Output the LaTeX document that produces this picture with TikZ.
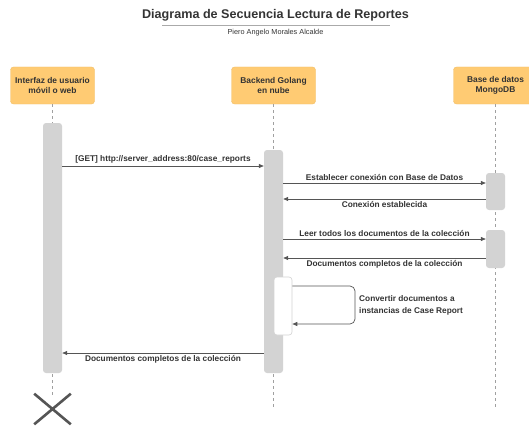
\documentclass[tikz,border=0pt]{standalone}
\usepackage{fontspec}
\setmainfont{Liberation Sans}
\usetikzlibrary{arrows.meta,shapes.misc}
\definecolor{hdrfill}{HTML}{FFCB73}
\definecolor{hdrline}{HTML}{F0BE68}
\definecolor{barfill}{HTML}{D3D3D3}
\definecolor{ink}{HTML}{333333}
\definecolor{wire}{HTML}{555555}
\definecolor{lifegray}{HTML}{A0A0A0}
\definecolor{rulegray}{HTML}{AAAAAA}

\begin{document}
\begin{tikzpicture}[x=1pt,y=-1pt,
  header/.style={draw=hdrline, line width=0.4pt, fill=hdrfill, rounded corners=3pt,
    minimum width=84pt, minimum height=37pt, inner sep=0pt, align=center,
    font=\fontsize{8.4}{10.5}\selectfont\bfseries, text=ink},
  actbar/.style={fill=barfill, rounded corners=3pt, minimum width=19pt, inner sep=0pt},
  selfbar/.style={draw=barfill, fill=white, rounded corners=3pt, minimum width=18pt,
    inner sep=0pt, line width=0.6pt},
  lifeline/.style={draw=lifegray, dash pattern=on 3pt off 3pt, line width=0.6pt},
  msg/.style={draw=wire, line width=0.7pt, -{Triangle[length=5pt,width=4pt]}},
  lbl/.style={font=\fontsize{8.3}{10}\selectfont\bfseries, text=ink, inner sep=2pt},
  endmark/.style={cross out, draw=wire, line width=2.6pt, minimum width=34pt,
    minimum height=28pt, inner sep=0pt},
]
\useasboundingbox (0,0) rectangle (529,425);

% title block
\node[font=\fontsize{12.6}{14}\selectfont\bfseries, text=ink] (title) at (275.5,15)
  {Diagrama de Secuencia Lectura de Reportes};
\coordinate (ruleL) at (162,25);
\coordinate (ruleR) at (390,25);
\draw[rulegray, line width=0.8pt] (ruleL) -- (ruleR);
\node[font=\fontsize{7.3}{8}\selectfont, text=ink] (author) at (275.5,32.5)
  {Piero Angelo Morales Alcalde};

% participants
\node[header] (h1) at (52.5,85.5) {Interfaz de usuario\\móvil o web};
\node[header] (h2) at (273.5,85.5) {Backend Golang\\en nube};
\node[header] (h3) at (495.5,85.5) {Base de datos\\MongoDB};

% lifeline ends
\coordinate (e1) at (52.5,395);
\coordinate (e2) at (273.5,410);
\coordinate (e3) at (495.5,410);
\draw[lifeline] (h1.south) -- (e1);
\draw[lifeline] (h2.south) -- (e2);
\draw[lifeline] (h3.south) -- (e3);

% activations
\node[actbar, minimum height=250pt] (b1) at (52.5,248) {};
\node[actbar, minimum height=223pt] (b2) at (273.5,261.5) {};
\node[actbar, minimum height=37pt] (b3a) at (495.5,191.5) {};
\node[actbar, minimum height=38pt] (b3b) at (495.5,249) {};
\node[selfbar, minimum height=58pt] (s2) at (283,306) {};

% message levels
\coordinate (m1) at (0,166);
\coordinate (m2) at (0,183);
\coordinate (m3) at (0,199);
\coordinate (m4) at (0,239);
\coordinate (m5) at (0,258);
\coordinate (m6a) at (0,286);
\coordinate (m6b) at (0,324);
\coordinate (m7) at (0,353);
\coordinate (loopx) at (355,0);

% messages
\draw[msg] (b1.east |- m1) -- node[lbl, above] {[GET] http://server\_address:80/case\_reports} (b2.west |- m1);
\draw[msg] (b2.east |- m2) -- node[lbl, above] {Establecer conexión con Base de Datos} (b3a.west |- m2);
\draw[msg] (b3a.west |- m3) -- node[lbl, below] {Conexión establecida} (b2.east |- m3);
\draw[msg] (b2.east |- m4) -- node[lbl, above] {Leer todos los documentos de la colección} (b3b.west |- m4);
\draw[msg] (b3b.west |- m5) -- node[lbl, below] {Documentos completos de la colección} (b2.east |- m5);
\draw[msg, rounded corners=5pt] (s2.east |- m6a) -- (loopx |- m6a) -- (loopx |- m6b) -- (s2.east |- m6b);
\node[lbl, anchor=west, align=left, font=\fontsize{8.3}{12}\selectfont\bfseries] (loopl) at (357,305)
  {Convertir documentos a\\instancias de Case Report};
\draw[msg] (b2.west |- m7) -- node[lbl, below] {Documentos completos de la colección} (b1.east |- m7);

% destruction
\node[endmark] (x1) at (52.5,409) {};
\end{tikzpicture}
\end{document}
